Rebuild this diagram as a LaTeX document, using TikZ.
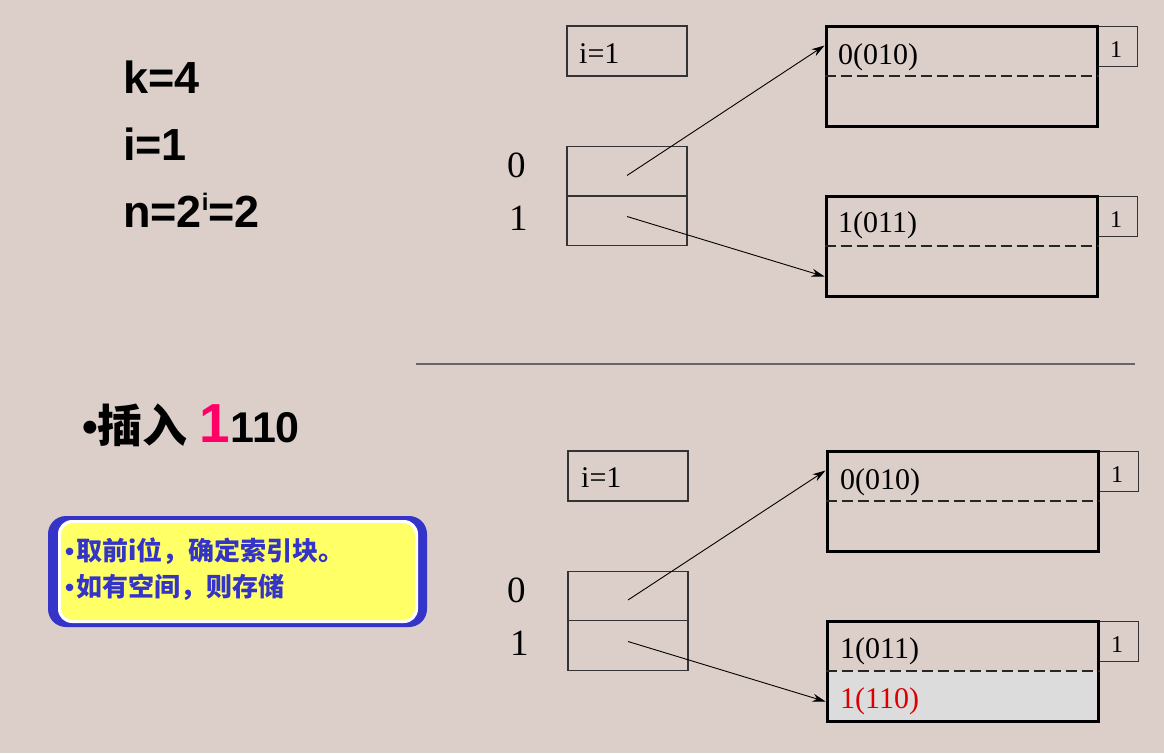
\documentclass[tikz,border=0pt]{standalone}
\usepackage{fontspec}
\setmainfont{Liberation Serif}
\newfontfamily\sansf{Liberation Sans}
\newfontfamily\cjk{Noto Sans CJK SC}
\usetikzlibrary{arrows.meta,calc}
\definecolor{bgc}{HTML}{DCCFCA}
\definecolor{bluec}{HTML}{3434C8}
\definecolor{yelc}{HTML}{FFFF66}
\definecolor{pinkc}{HTML}{FF0066}
\definecolor{redc}{HTML}{DD0000}
\definecolor{grayfill}{HTML}{DCDCDC}
\begin{document}
\begin{tikzpicture}[x=1pt,y=-1pt,
  thinbox/.style={draw=black!80,line width=1.2pt,minimum width=120pt,minimum height=50pt,inner sep=0pt},
  cell/.style={draw=black!80,line width=1.2pt,minimum width=120pt,minimum height=49.5pt,inner sep=0pt},
  block/.style={draw=black,line width=3pt,minimum width=271pt,minimum height=100pt,inner sep=0pt},
  cnt/.style={draw=black!80,line width=1pt,minimum width=40pt,minimum height=40pt,inner sep=0pt},
  cnttxt/.style={anchor=base,inner sep=0pt,font=\fontsize{24}{24}\selectfont},
  dashline/.style={black!85,line width=1.4pt,dash pattern=on 11pt off 5pt},
  arr/.style={-{Stealth[length=13pt,width=8pt]},line width=0.9pt,black},
  big/.style={font=\sansf\bfseries\fontsize{45}{45}\selectfont,anchor=base west,inner sep=0pt},
  idxlab/.style={font=\fontsize{37}{37}\selectfont,anchor=base west,inner sep=0pt},
  boxtxt/.style={font=\fontsize{30}{30}\selectfont,anchor=base west,inner sep=0pt},
  note/.style={anchor=base west,inner sep=0pt,text=bluec,font=\cjk\bfseries\fontsize{26}{26}\selectfont},
]
\useasboundingbox (0,0) rectangle (1164,753);
\fill[bgc] (0,0) rectangle (1164,753);

% left texts
\node[big] (k) at (123,93) {k=4};
\node[big] (i) at (123,160) {i=1};
\node[big] (n) at (123,227) {n=2\raisebox{17pt}{\fontsize{24}{24}\selectfont i}=2};

% ---------- top diagram ----------
\node[thinbox] (ib1) at (627,51) {};
\node[boxtxt] (ib1t) at (579,63) {i=1};
\node[cell] (i0) at (627,171.5) {};
\node[cell] (i1) at (627,220.5) {};
\node[idxlab] (l0) at (507,177) {0};
\node[idxlab] (l1) at (509,230) {1};

\node[cnt] (c0) at (1117,46) {};
\node[cnttxt] (c0t) at (1116,57) {1};
\node[block] (b0) at (961.5,76) {};
\draw[dashline] (b0.west) -- (b0.east);
\node[boxtxt] (b0t) at (838,64) {0(010)};

\node[cnt] (c1) at (1117,216) {};
\node[cnttxt] (c1t) at (1116,227) {1};
\node[block] (b1) at (961.5,246) {};
\draw[dashline] (b1.west) -- (b1.east);
\node[boxtxt] (b1t) at (838,232) {1(011)};

\draw[arr] ($(i0.center)+(0,4)$) -- ($(b0.north west)+(0,21)$);
\draw[arr] ($(i1.center)+(0,-4)$) -- ($(b1.south west)+(0,-21)$);

% separator
\coordinate (s1) at (416,364);
\coordinate (s2) at (1135,364);
\draw[line width=2.2pt,black!60] (s1) -- (s2);

% ---------- bottom left ----------
\node[anchor=base west,inner sep=0pt] (ins) at (82,442)
  {\sansf\bfseries\fontsize{45}{45}\selectfont •\cjk\bfseries 插入\hspace{12pt}\sansf\bfseries{\color{pinkc}\fontsize{55}{55}\selectfont 1}\fontsize{43}{43}\selectfont 110};

\fill[bluec] (48,516) [rounded corners=18pt] rectangle (427,627);
\fill[white] (58,520) [rounded corners=14pt] rectangle (418,623);
\fill[yelc] (61,523) [rounded corners=12pt] rectangle (415,620);
\node[note] (note1) at (65,560) {{\sansf\bfseries •}\hspace{2pt}取前i位，确定索引块。};
\node[note] (note2) at (65,596) {{\sansf\bfseries •}\hspace{2pt}如有空间，则存储};

% ---------- bottom diagram ----------
\node[thinbox] (ib2) at (628,476) {};
\node[boxtxt] (ib2t) at (581,487) {i=1};
\node[cell] (i2) at (628,596) {};
\node[cell] (i3) at (628,645.5) {};
\node[idxlab] (l2) at (507,602) {0};
\node[idxlab] (l3) at (510,655) {1};

\node[cnt] (c2) at (1118,471) {};
\node[cnttxt] (c2t) at (1117,482) {1};
\node[block] (b2) at (962.5,501) {};
\draw[dashline] (b2.west) -- (b2.east);
\node[boxtxt] (b2t) at (840,489) {0(010)};

\node[cnt] (c3) at (1118,641) {};
\node[cnttxt] (c3t) at (1117,652) {1};
\fill[grayfill] (827,671) rectangle (1098,721);
\node[block] (b3) at (962.5,671) {};
\draw[dashline] (b3.west) -- (b3.east);
\node[boxtxt] (b3t) at (840,658) {1(011)};
\node[boxtxt,text=redc] (b3r) at (840,708) {1(110)};

\draw[arr] ($(i2.center)+(0,4)$) -- ($(b2.north west)+(0,21)$);
\draw[arr] ($(i3.center)+(0,-4)$) -- ($(b3.south west)+(0,-21)$);
\end{tikzpicture}
\end{document}
